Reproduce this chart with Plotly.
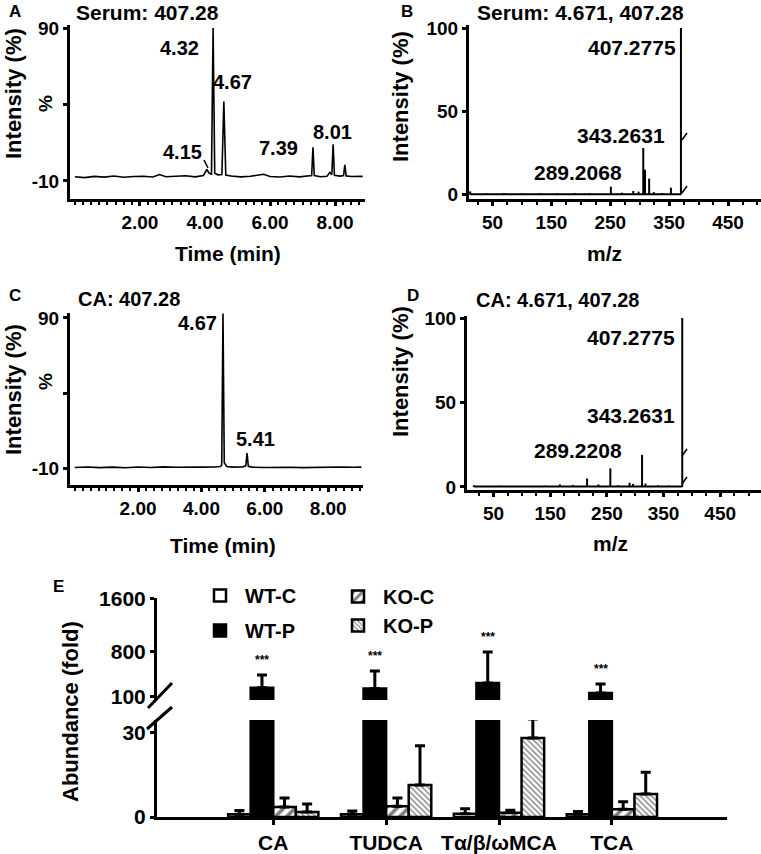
import plotly.graph_objects as go

W, H = 761, 854

# ---------------- Panel A: serum chromatogram ----------------
a_time = [0.00, 0.30, 0.60, 0.90, 1.20, 1.50, 1.80, 2.10, 2.40, 2.60, 2.80, 3.10, 3.40, 3.70,
          3.95, 4.06, 4.12, 4.20, 4.25, 4.30, 4.40, 4.52, 4.58, 4.64, 4.80, 5.10, 5.40, 5.80,
          6.00, 6.30, 6.60, 6.90, 7.20, 7.28, 7.32, 7.36, 7.55, 7.75, 7.84, 7.90, 7.94, 7.98,
          8.15, 8.26, 8.30, 8.34, 8.50, 8.70, 8.85]
a_int = [-7.2, -7.8, -7.0, -7.5, -6.8, -7.6, -7.1, -6.9, -7.4, -5.8, -7.2, -7.0, -6.6, -7.3,
         -6.4, -2.5, -4.8, -5.6, 90.0, -5.0, -6.0, -5.8, 42.0, -6.2, -6.8, -7.3, -6.9, -5.6,
         -7.1, -7.4, -6.8, -7.3, -7.0, -6.5, 12.0, -6.5, -7.2, -6.9, -4.5, -6.0, 14.0, -6.3,
         -6.8, -6.5, 0.5, -6.7, -7.1, -6.8, -7.0]
a_labels = ["4.32", "4.67", "4.15", "7.39", "8.01"]

# ---------------- Panel C: CA standard chromatogram ----------------
c_time = [0.00, 0.40, 0.80, 1.20, 1.60, 2.00, 2.40, 2.80, 3.20, 3.60, 4.00, 4.40, 4.60, 4.64,
          4.68, 4.72, 4.80, 5.00, 5.30, 5.40, 5.44, 5.48, 5.60, 6.00, 6.40, 6.80, 7.20, 7.60,
          8.00, 8.40, 8.80, 9.05]
c_int = [-9.6, -9.3, -9.7, -9.4, -9.8, -9.3, -9.6, -9.2, -9.5, -9.7, -9.4, -9.3, -9.0, -8.0,
         93.0, -6.5, -9.0, -9.4, -9.2, -8.5, 0.0, -8.8, -9.4, -9.6, -9.3, -9.5, -9.7, -9.4,
         -9.6, -9.3, -9.5, -9.4]
c_labels = ["4.67", "5.41"]

# ---------------- Panel B: serum MS spectrum ----------------
b_mz = [12, 40, 70, 100, 130, 160, 190, 215, 251, 270, 289, 298, 306, 309, 316, 324, 338, 353, 370]
b_int = [2.0, 0.8, 1.0, 0.7, 0.9, 0.8, 1.0, 0.9, 4.8, 1.2, 2.2, 1.8, 28.0, 15.0, 9.6, 1.5, 1.0, 4.2, 100.0]
b_labels = ["407.2775", "343.2631", "289.2068"]

# ---------------- Panel D: CA standard MS spectrum ----------------
d_mz = [15, 60, 100, 140, 167, 190, 215, 235, 256, 270, 290, 296, 312, 318, 340, 360, 383]
d_int = [1.0, 0.8, 0.6, 0.8, 1.5, 1.2, 5.0, 1.5, 11.0, 1.0, 2.5, 1.8, 19.0, 2.0, 1.0, 0.8, 100.0]
d_labels = ["407.2775", "343.2631", "289.2208"]

# ---------------- Panel E: bile acid abundance ----------------
categories = ["CA", "TUDCA", "Tα/β/ωMCA", "TCA"]
wt_c = [1.0, 1.0, 1.2, 1.0]
wt_c_err = [1.3, 1.1, 1.7, 1.0]
wt_p = [240, 230, 314, 161]
wt_p_err = [197, 268, 476, 139]
ko_c = [3.6, 3.8, 1.5, 2.8]
ko_c_err = [3.2, 3.0, 0.9, 2.6]
ko_p = [1.8, 11.4, 28.2, 8.2]
ko_p_err = [2.8, 14.0, 6.8, 7.8]
wt_p_stars = ["***", "***", "***", "***"]
ko_p_stars = ["", "", "***", ""]


def px_x(p):
    return p / W


def px_y(p):
    return 1 - p / H


def sticks(mz, inten):
    xs, ys = [], []
    for m, v in zip(mz, inten):
        xs += [m, m, None]
        ys += [0, v, None]
    return xs, ys


FONT = "Liberation Sans, Arial, sans-serif"
fig = go.Figure()

# chromatograms
fig.add_trace(go.Scatter(x=a_time, y=a_int, mode="lines", line=dict(color="black", width=1.6),
                         xaxis="x", yaxis="y", showlegend=False, hoverinfo="skip"))
fig.add_trace(go.Scatter(x=c_time, y=c_int, mode="lines", line=dict(color="black", width=1.6),
                         xaxis="x3", yaxis="y3", showlegend=False, hoverinfo="skip"))
# spectra
bx, by = sticks(b_mz, b_int)
fig.add_trace(go.Scatter(x=[b_mz[0], b_mz[-1]], y=[0.3, 0.3], mode="lines",
                         line=dict(color="black", width=2), xaxis="x2", yaxis="y2", showlegend=False, hoverinfo="skip"))
fig.add_trace(go.Scatter(x=bx, y=by, mode="lines", line=dict(color="black", width=2),
                         xaxis="x2", yaxis="y2", showlegend=False, hoverinfo="skip"))
dx, dy = sticks(d_mz, d_int)
fig.add_trace(go.Scatter(x=[d_mz[0], d_mz[-1]], y=[0.2, 0.2], mode="lines",
                         line=dict(color="black", width=2), xaxis="x4", yaxis="y4", showlegend=False, hoverinfo="skip"))
fig.add_trace(go.Scatter(x=dx, y=dy, mode="lines", line=dict(color="black", width=2),
                         xaxis="x4", yaxis="y4", showlegend=False, hoverinfo="skip"))

# bars (explicit offsets so lower and upper segments align)
series = [
    ("WT-C", wt_c, wt_c_err, dict(color="white"), -0.4, "legend"),
    ("WT-P", wt_p, wt_p_err, dict(color="black"), -0.2, "legend"),
    ("KO-C", ko_c, ko_c_err, dict(color="white", pattern=dict(shape="/", fgcolor="black", bgcolor="white", size=8, solidity=0.45)), 0.0, "legend2"),
    ("KO-P", ko_p, ko_p_err, dict(color="white", pattern=dict(shape="\\", fgcolor="black", bgcolor="white", size=4, solidity=0.35)), 0.2, "legend2"),
]
for name, vals, errs, mk, off, lg in series:
    low_err = errs if name != "WT-P" else [0] * len(errs)
    fig.add_trace(go.Bar(
        x=categories, y=vals, name=name, width=0.2, offset=off, legendgroup=name,
        marker=dict(line=dict(color="black", width=2.5), **mk),
        error_y=dict(type="data", array=low_err, arrayminus=[0] * len(vals), symmetric=False,
                     color="black", thickness=3, width=5),
        xaxis="x5", yaxis="y5", legend=lg, showlegend=True))
# upper (broken) segment for WT-P
fig.add_trace(go.Bar(
    x=categories, y=wt_p, name="WT-P", width=0.2, offset=-0.2, legendgroup="WT-P",
    marker=dict(color="black", line=dict(color="black", width=2.5)),
    error_y=dict(type="data", array=wt_p_err, arrayminus=[0] * 4, symmetric=False,
                 color="black", thickness=3, width=5),
    xaxis="x5", yaxis="y6", showlegend=False))

ax_common = dict(showline=True, linecolor="black", linewidth=3, showgrid=False, zeroline=False,
                 automargin=False,
                 ticks="outside", tickcolor="black", tickwidth=2.5, ticklen=4,
                 tickfont=dict(size=19, color="black", family=FONT, weight="bold"))
big_tick = dict(size=21, color="black", family=FONT, weight="bold")

fig.update_layout(
    width=W, height=H, margin=dict(l=0, r=0, t=0, b=0, pad=0, autoexpand=False),
    paper_bgcolor="white", plot_bgcolor="white",
    font=dict(family=FONT, color="black", size=19, weight="bold"),
    barmode="overlay",
    # A
    xaxis=dict(domain=[px_x(70), px_x(365)], anchor="y", range=[-0.15, 8.92],
               tickvals=[2, 4, 6, 8], ticktext=["2.00", "4.00", "6.00", "8.00"],
               minor=dict(dtick=0.25, ticks="outside", ticklen=3, tickwidth=2, tickcolor="black"), **ax_common),
    yaxis=dict(domain=[px_y(199), px_y(25)], anchor="x", range=[-21.8, 92],
               tickvals=[90, 40, -10], ticktext=["90", "", "-10"], **ax_common),
    # B
    xaxis2=dict(domain=[px_x(469), px_x(761)], anchor="y2", range=[10, 506],
                tickvals=[50, 150, 250, 350, 450],
                minor=dict(dtick=25, ticks="outside", ticklen=3, tickwidth=2, tickcolor="black"), **ax_common),
    yaxis2=dict(domain=[px_y(199), px_y(25)], anchor="x2", range=[-2.6, 101.8],
                tickvals=[0, 50, 100], **ax_common),
    # C
    xaxis3=dict(domain=[px_x(70), px_x(363)], anchor="y3", range=[-0.15, 9.1],
                tickvals=[2, 4, 6, 8], ticktext=["2.00", "4.00", "6.00", "8.00"],
                minor=dict(dtick=0.25, ticks="outside", ticklen=3, tickwidth=2, tickcolor="black"), **ax_common),
    yaxis3=dict(domain=[px_y(485), px_y(313)], anchor="x3", range=[-21.3, 93.3],
                tickvals=[90, 40, -10], ticktext=["90", "", "-10"], **ax_common),
    # D
    xaxis4=dict(domain=[px_x(467), px_x(761)], anchor="y4", range=[3, 522],
                tickvals=[50, 150, 250, 350, 450],
                minor=dict(dtick=25, ticks="outside", ticklen=3, tickwidth=2, tickcolor="black"), **ax_common),
    yaxis4=dict(domain=[px_y(490), px_y(316)], anchor="x4", range=[-1.8, 101.2],
                tickvals=[0, 50, 100], **ax_common),
    # E
    xaxis5=dict(domain=[px_x(157), px_x(727)], anchor="y5", type="category", range=[-1.03, 4.02],
                **{**ax_common, "ticklen": 5, "tickwidth": 3, "tickfont": big_tick}),
    yaxis5=dict(domain=[px_y(817), px_y(720)], anchor="x5", range=[0, 34.6], tickvals=[0, 30],
                **{**ax_common, "tickfont": big_tick}),
    yaxis6=dict(domain=[px_y(700), px_y(598)], anchor="x5", range=[54, 1615], tickvals=[100, 800, 1600],
                **{**ax_common, "tickfont": big_tick}),
    legend=dict(x=px_x(195), y=px_y(576), xanchor="left", yanchor="top", bgcolor="rgba(0,0,0,0)",
                font=dict(size=20, family=FONT, weight="bold"), tracegroupgap=6, itemwidth=40),
    legend2=dict(x=px_x(333), y=px_y(577), xanchor="left", yanchor="top", bgcolor="rgba(0,0,0,0)",
                 font=dict(size=20, family=FONT, weight="bold"), tracegroupgap=0, itemwidth=40),
)

ann = []


def text(x, y, s, size=20, xanchor="center", yanchor="middle", angle=0):
    ann.append(dict(x=px_x(x), y=px_y(y), xref="paper", yref="paper", text=s, showarrow=False,
                    xanchor=xanchor, yanchor=yanchor, textangle=angle, borderpad=0,
                    font=dict(size=size, family=FONT, color="black", weight="bold")))


# panel letters and titles
text(15, 11, "A", 17)
text(147, 12, "Serum: 407.28", 21)
text(407, 11, "B", 17)
text(580, 12, "Serum: 4.671, 407.28", 21)
text(15, 295, "C", 17)
text(129, 299, "CA: 407.28", 20)
text(413, 296, "D", 17)
text(557, 300, "CA: 4.671, 407.28", 20)
text(58, 586, "E", 17)
# axis titles
text(13, 94, "Intensity (%)", 22, angle=-90)
text(45, 104, "%", 19, angle=-90)
text(228, 253, "Time (min)", 21)
text(400, 97, "Intensity (%)", 22, angle=-90)
text(604, 253, "m/z", 21)
text(13, 390, "Intensity (%)", 22, angle=-90)
text(45, 382, "%", 19, angle=-90)
text(223, 545, "Time (min)", 21)
text(400, 372, "Intensity (%)", 22, angle=-90)
text(610, 543, "m/z", 21)
text(70, 712, "Abundance (fold)", 22, angle=-90)

# peak labels
a_pos = [(200, 48, "right"), (233, 82, "center"), (182, 152, "center"), (278, 148, "center"), (332, 132, "center")]
for lab, (x, y, xa) in zip(a_labels, a_pos):
    text(x, y, lab, 20, xanchor=xa)
c_pos = [(218, 323, "right"), (255, 439, "center")]
for lab, (x, y, xa) in zip(c_labels, c_pos):
    text(x, y, lab, 20, xanchor=xa)
for lab, (x, y) in zip(b_labels, [(677, 48), (666, 136), (623, 172)]):
    text(x, y, lab, 21, xanchor="right")
for lab, (x, y) in zip(d_labels, [(676, 337), (676, 415), (623, 450)]):
    text(x, y, lab, 21, xanchor="right")

# significance stars
for i, s in enumerate(wt_p_stars):
    if s:
        ann.append(dict(x=categories[i], y=wt_p[i] + wt_p_err[i], xref="x5", yref="y6", xshift=-0.1 * 113,
                        text=s, showarrow=False, yanchor="bottom", yshift=6,
                        font=dict(size=12, family=FONT, color="black", weight="bold")))
for i, s in enumerate(ko_p_stars):
    if s:
        ann.append(dict(x=categories[i], y=ko_p[i] + ko_p_err[i], xref="x5", yref="y5", xshift=0.3 * 113,
                        text=s, showarrow=False, yanchor="bottom", yshift=8,
                        font=dict(size=12, family=FONT, color="black", weight="bold")))

fig.update_layout(annotations=ann)

# axis break marks
for (x0, y0, x1, y1) in [(148, 708, 172, 683), (147, 729, 172, 707)]:
    fig.add_shape(type="line", xref="paper", yref="paper", x0=px_x(x0), y0=px_y(y0), x1=px_x(x1), y1=px_y(y1),
                  line=dict(color="black", width=3))
# pointer for 4.15 and small tick marks on the base peaks of B / D
for (x0, y0, x1, y1) in [(204, 160, 208, 168), (682, 140, 687, 133), (682, 193, 687, 186),
                         (682, 456, 687, 449), (682, 484, 687, 477)]:
    fig.add_shape(type="line", xref="paper", yref="paper", x0=px_x(x0), y0=px_y(y0), x1=px_x(x1), y1=px_y(y1),
                  line=dict(color="black", width=1.5))

fig.write_html("out.html",
               config={"displayModeBar": False},
               post_script="document.body.style.margin='0';document.body.style.overflow='hidden';")
